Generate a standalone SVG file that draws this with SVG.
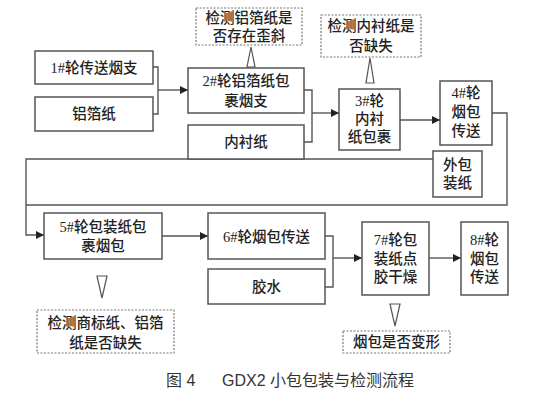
<svg xmlns="http://www.w3.org/2000/svg" width="542" height="404" viewBox="0 0 542 404">
<defs>
<style>
.box{fill:#fff;stroke:#555;stroke-width:1.5}
.dash{fill:#fff;stroke:#777;stroke-width:1.2;stroke-dasharray:2,1.5}
.t{font-family:"Liberation Serif","Noto Sans CJK SC",serif;font-size:14.5px;font-weight:500;fill:#222;text-anchor:middle;dominant-baseline:central}
.ln{fill:none;stroke:#555;stroke-width:1.4}
.tri{fill:#fff;stroke:#555;stroke-width:1.2}
.cap{font-family:"Liberation Sans","Noto Sans CJK SC",sans-serif;font-size:16px;fill:#333}
</style>
<marker id="ah" viewBox="0 0 10 10" refX="10" refY="5" markerWidth="8" markerHeight="8" markerUnits="userSpaceOnUse" orient="auto">
<path d="M0,0 L10,5 L0,10 z" fill="#222"/>
</marker>
</defs>
<rect width="542" height="404" fill="#fff"/>
<g id="connectors">
<path class="ln" d="M153,67 H158 V114 H153"/>
<path class="ln" d="M158,90 H188" marker-end="url(#ah)"/>
<path class="ln" d="M304,90 H312 V142 H304"/>
<path class="ln" d="M312,113 H339" marker-end="url(#ah)"/>
<path class="ln" d="M400,120 H440" marker-end="url(#ah)"/>
<path class="ln" d="M492,113 H507 V205 H26"/>
<path class="ln" d="M433,159 H26 V235 H44" marker-end="url(#ah)"/>
<path class="ln" d="M162,236 H208" marker-end="url(#ah)"/>
<path class="ln" d="M325,236 H333 V287 H325"/>
<path class="ln" d="M333,258 H362" marker-end="url(#ah)"/>
<path class="ln" d="M429,258 H461" marker-end="url(#ah)"/>
<polygon class="tri" points="247,67 255,67 251,47"/>
<polygon class="tri" points="366,83 374,83 370,58"/>
<polygon class="tri" points="97,276 107,276 102,298"/>
<polygon class="tri" points="390,304 400,304 395,326"/>
</g>
<g id="n1"><rect class="box" x="35" y="51" width="118" height="33"/><text class="t" x="94" y="68">1#轮传送烟支</text></g>
<g id="n_al"><rect class="box" x="35" y="97" width="118" height="34"/><text class="t" x="94" y="114">铝箔纸</text></g>
<g id="n2"><rect class="box" x="188" y="68" width="116" height="45"/><text class="t" x="246" y="81">2#轮铝箔纸包</text><text class="t" x="246" y="101">裹烟支</text></g>
<g id="n_inner"><rect class="box" x="188" y="125" width="116" height="34"/><text class="t" x="246" y="142">内衬纸</text></g>
<g id="d1"><rect class="dash" x="196" y="8" width="106" height="37"/><text class="t" x="249" y="18">检测铝箔纸是</text><text class="t" x="249" y="36">否存在歪斜</text></g>
<g id="d2"><rect class="dash" x="321" y="15" width="100" height="42"/><text class="t" x="371" y="26">检测内衬纸是</text><text class="t" x="371" y="46">否缺失</text></g>
<g id="n3"><rect class="box" x="339" y="89" width="61" height="61"/><text class="t" x="369.5" y="101">3#轮</text><text class="t" x="369.5" y="119">内衬</text><text class="t" x="369.5" y="137">纸包裹</text></g>
<g id="n4"><rect class="box" x="440" y="81" width="52" height="64"/><text class="t" x="466" y="93">4#轮</text><text class="t" x="466" y="112">烟包</text><text class="t" x="466" y="131">传送</text></g>
<g id="n_outer"><rect class="box" x="433" y="151" width="49" height="46"/><text class="t" x="457.5" y="165">外包</text><text class="t" x="457.5" y="183">装纸</text></g>
<g id="n5"><rect class="box" x="44" y="213" width="118" height="46"/><text class="t" x="103" y="227">5#轮包装纸包</text><text class="t" x="103" y="246">裹烟包</text></g>
<g id="n6"><rect class="box" x="208" y="213" width="117" height="46"/><text class="t" x="266.5" y="237">6#轮烟包传送</text></g>
<g id="n_glue"><rect class="box" x="208" y="269" width="117" height="35"/><text class="t" x="266.5" y="287">胶水</text></g>
<g id="n7"><rect class="box" x="362" y="222" width="67" height="73"/><text class="t" x="395.5" y="240">7#轮包</text><text class="t" x="395.5" y="259">装纸点</text><text class="t" x="395.5" y="277">胶干燥</text></g>
<g id="n8"><rect class="box" x="461" y="222" width="47" height="73"/><text class="t" x="484.5" y="240">8#轮</text><text class="t" x="484.5" y="259">烟包</text><text class="t" x="484.5" y="277">传送</text></g>
<g id="d3"><rect class="dash" x="37" y="310" width="137" height="43"/><text class="t" x="105.5" y="323">检测商标纸、铝箔</text><text class="t" x="105.5" y="343">纸是否缺失</text></g>
<g id="d4"><rect class="dash" x="343" y="331" width="107" height="22"/><text class="t" x="396.5" y="342">烟包是否变形</text></g>
<g id="caption"><text class="cap" x="166" y="386">图 4</text><text class="cap" x="222" y="386">GDX2 小包包装与检测流程</text></g>
</svg>
